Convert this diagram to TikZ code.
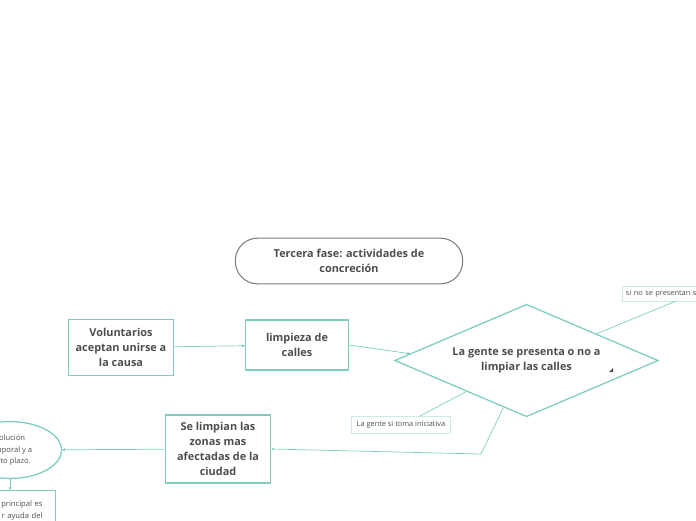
\documentclass[tikz,border=0pt]{standalone}
\usepackage{fontspec}
\setmainfont{Open Sans}
\usetikzlibrary{shapes.geometric, arrows.meta, calc, positioning}
\definecolor{verde}{RGB}{125,206,193}
\definecolor{verdeclaro}{RGB}{200,236,230}
\definecolor{texto}{RGB}{77,77,77}
\definecolor{borde}{RGB}{125,125,125}
\tikzset{
  mapa/.style={
	x=0.03cm, y=-0.03cm, % one unit is one pixel of the sketch
	>={Stealth[length=2.5pt,width=2.5pt]}, % small heads
	every node/.style={text=texto},
  },
  caja/.style={draw=verde, line width=1.1pt, align=center, inner sep=0pt,
	font=\fontsize{9.3}{12.75}\selectfont\bfseries},
  nota/.style={draw=verdeclaro, line width=0.8pt, inner sep=3pt,
	font=\fontsize{6.3}{7.5}\selectfont},
  enlace/.style={draw=verde, line width=0.6pt},
}
\begin{document}
\begin{tikzpicture}[mapa]
\useasboundingbox (0,0) rectangle (696,520);
\clip (0,0) rectangle (696,520);

\node[draw=borde, line width=0.9pt, rounded corners=19pt, minimum width=194pt, minimum height=39pt,
  align=center, font=\fontsize{9.3}{12.75}\selectfont\bfseries] (fase) at (349,261)
  {Tercera fase: actividades de\\concreción};

\node[caja, minimum width=90pt, minimum height=48pt] (vol) at (121,347.5)
  {Voluntarios\\aceptan unirse a\\la causa};
\node[caja, minimum width=88pt, minimum height=42.5pt] (limp) at (297,345)
  {limpieza de\\calles};
\node[caja, diamond, aspect=2.35, minimum width=225pt, minimum height=96pt] (gente) at (526.5,360.5)
  {La gente se presenta o no a\\limpiar las calles};
\node[caja, minimum width=90pt, minimum height=58pt] (selim) at (218,449)
  {Se limpian las\\zonas mas\\afectadas de la\\ciudad};
\node[caja, ellipse, minimum width=88pt, minimum height=48.5pt,
  font=\fontsize{6.5}{10}\selectfont] (sol) at (10,450)
  {Solución\\temporal y a\\corto plazo.};
\node[caja, anchor=north east, text width=100pt, align=right, inner xsep=11pt, inner ysep=9pt,
  font=\fontsize{6.5}{10}\selectfont] (ayuda) at (56,490)
  {principal es\\r ayuda del\\ };

\node[nota, anchor=west, minimum height=12.75pt, text width=68pt, align=left] (sino) at (622,294)
  {si no se presentan s};
\node[nota, minimum width=85pt, minimum height=15pt] (toma) at (401,425) {La gente si toma iniciativa};

\fill[texto] (609,372) -- (613,372) -- (613,368) -- cycle;

\draw[enlace] (vol) edge[->] (limp)
	(limp.east) edge[->] ($(gente.west)!0.12!(gente.north)$)
	($(gente.north)!0.53!(gente.east)$) edge (676,301)
	(420,416) edge ($(gente.west)!0.545!(gente.south)$)
	(selim) edge[->] (sol)
	(sol.south) edge[->] (sol.south |- ayuda.north)
;
\draw[enlace, ->] ($(gente.west)!0.826!(gente.south)$) -- (481,454) -- (selim.east);
\end{tikzpicture}
\end{document}
